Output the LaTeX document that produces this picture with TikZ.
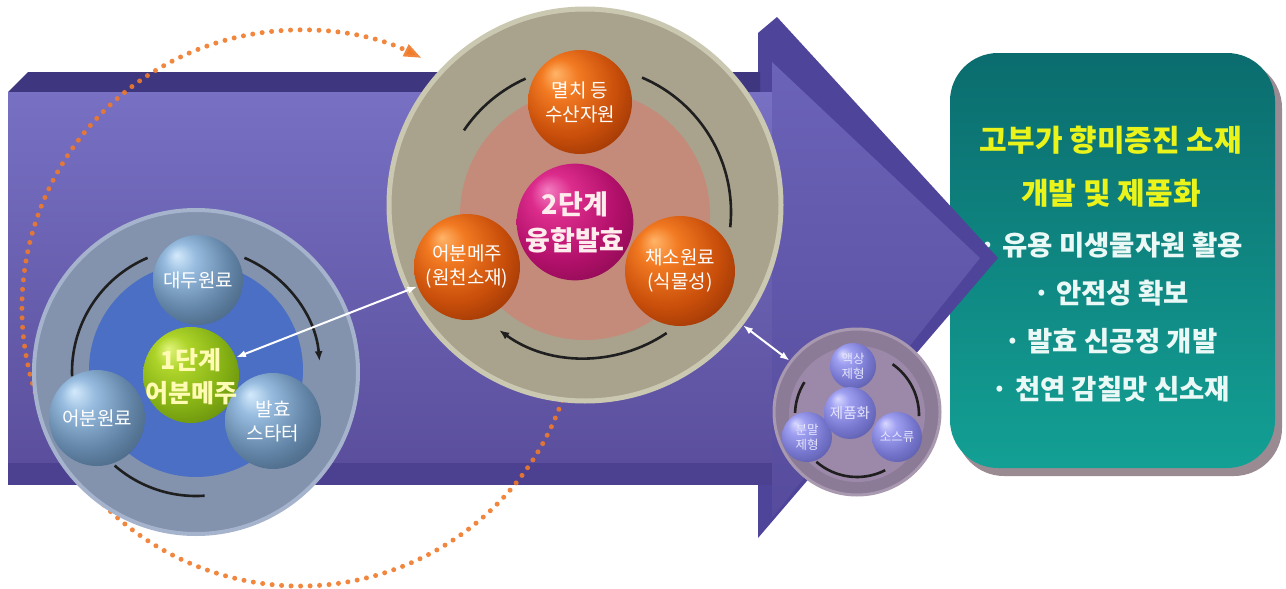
\documentclass[tikz,border=0pt]{standalone}
\usepackage{fontspec}
\setmainfont{Noto Sans CJK KR}
\usetikzlibrary{arrows.meta}

% sphere colours
\definecolor{bbA}{HTML}{D4EAFC}\definecolor{bbB}{HTML}{96BBDE}\definecolor{bbC}{HTML}{6284A6}\definecolor{bbD}{HTML}{405A76}\definecolor{bbE}{HTML}{2C3E52}
\definecolor{obA}{HTML}{FFB468}\definecolor{obB}{HTML}{F27A22}\definecolor{obC}{HTML}{C84E0A}\definecolor{obD}{HTML}{8C2E04}\definecolor{obE}{HTML}{5A1A00}
\definecolor{gbA}{HTML}{E0F47A}\definecolor{gbB}{HTML}{AED42A}\definecolor{gbC}{HTML}{84B014}\definecolor{gbD}{HTML}{5E820A}\definecolor{gbE}{HTML}{3E5806}
\definecolor{mbA}{HTML}{F37CC0}\definecolor{mbB}{HTML}{DC2C8C}\definecolor{mbC}{HTML}{B2106A}\definecolor{mbD}{HTML}{820A4C}\definecolor{mbE}{HTML}{520032}
\definecolor{lbA}{HTML}{D8D8FF}\definecolor{lbB}{HTML}{A0A0F2}\definecolor{lbC}{HTML}{7474CC}\definecolor{lbD}{HTML}{54549E}\definecolor{lbE}{HTML}{3A3A72}

\pgfdeclareradialshading{ballblue}{\pgfpoint{-12bp}{14bp}}{color(0bp)=(bbA); color(9bp)=(bbB); color(24bp)=(bbC); color(38bp)=(bbD); color(50bp)=(bbE)}
\pgfdeclareradialshading{ballorange}{\pgfpoint{-12bp}{14bp}}{color(0bp)=(obA); color(9bp)=(obB); color(24bp)=(obC); color(38bp)=(obD); color(50bp)=(obE)}
\pgfdeclareradialshading{ballgreen}{\pgfpoint{-12bp}{14bp}}{color(0bp)=(gbA); color(9bp)=(gbB); color(24bp)=(gbC); color(38bp)=(gbD); color(50bp)=(gbE)}
\pgfdeclareradialshading{ballmagenta}{\pgfpoint{-12bp}{14bp}}{color(0bp)=(mbA); color(9bp)=(mbB); color(24bp)=(mbC); color(38bp)=(mbD); color(50bp)=(mbE)}
\pgfdeclareradialshading{balllilac}{\pgfpoint{-12bp}{14bp}}{color(0bp)=(lbA); color(9bp)=(lbB); color(24bp)=(lbC); color(38bp)=(lbD); color(50bp)=(lbE)}

% arrow band and rings
\definecolor{bodytop}{HTML}{3F3680}
\definecolor{bodyA}{HTML}{7770C3}
\definecolor{bodyB}{HTML}{5B4F9D}
\definecolor{bodybottom}{HTML}{4C4090}
\definecolor{headside}{HTML}{4E4499}
\definecolor{headA}{HTML}{6B63B8}
\definecolor{headB}{HTML}{564B9C}
\definecolor{ringone}{HTML}{8393AE}\definecolor{ringonerim}{HTML}{A6B3CC}\definecolor{innerone}{HTML}{4A6FC4}
\definecolor{ringtwo}{HTML}{A9A38E}\definecolor{ringtworim}{HTML}{CBC8B2}\definecolor{innertwo}{HTML}{C48B7A}
\definecolor{ringthree}{HTML}{8B7B97}\definecolor{ringthreerim}{HTML}{A898B0}\definecolor{innerthree}{HTML}{9C88A8}
\definecolor{loopcol}{HTML}{F07A2A}
\definecolor{tealA}{HTML}{0B6C6E}
\definecolor{tealB}{HTML}{13A094}
\definecolor{boxshade}{HTML}{9A8A92}
\definecolor{headyellow}{HTML}{EAF41A}
\definecolor{pointwhite}{HTML}{EAF8F6}

\begin{document}
\begin{tikzpicture}[x=1pt,y=-1pt,
  disc/.style={circle, inner sep=0pt, draw=none},
  sphere/.style={circle, inner sep=0pt, draw=none},
  balltext/.style={text=white, align=center, font=\fontsize{19}{24}\selectfont},
  smalltext/.style={text=white!90!blue, align=center, font=\fontsize{12.5}{15}\selectfont},
  arcline/.style={draw=black!88, line width=2.6pt},
  arcarrow/.style={arcline, -{Latex[length=10pt,width=8pt]}},
  linkarrow/.style={draw=white, line width=2pt, {Latex[length=10pt,width=7pt]}-{Latex[length=10pt,width=7pt]}},
  headline/.style={text=headyellow, font=\fontsize{30}{34}\selectfont\bfseries},
  pointline/.style={text=pointwhite, font=\fontsize{27.5}{32}\selectfont\bfseries},
  loopline/.style={draw=loopcol, line width=5pt, line cap=round, dash pattern=on 0pt off 9.5pt, opacity=0.9}
]
\useasboundingbox (0,0) rectangle (1286,589);
\fill[white] (0,0) rectangle (1286,589);

% ---------- result panel ----------
\fill[boxshade, rounded corners=48pt] (956,60) rectangle (1282,476);
\node[rectangle, rounded corners=48pt, minimum width=325pt, minimum height=415pt,
      top color=tealA, bottom color=tealB, draw=none] (result) at (1112.5,260.5) {};
\node[headline] (h1) at (1111,140) {고부가 향미증진 소재};
\node[headline] (h2) at (1111,193) {개발 및 제품화};
\node[pointline] (p1) at (1111,245) {· 유용 미생물자원 활용};
\node[pointline] (p2) at (1111,293) {· 안전성 확보};
\node[pointline] (p3) at (1111,341) {· 발효 신공정 개발};
\node[pointline] (p4) at (1111,389) {· 천연 감칠맛 신소재};

% ---------- big process arrow ----------
\fill[headside] (758,33) -- (777,17) -- (998,258) -- (758,538) -- cycle;
\fill[bodytop] (8,92) -- (28,72) -- (760,72) -- (760,92) -- cycle;
\shade[top color=bodyA, bottom color=bodyB] (8,92) rectangle (774,463);
\fill[bodybottom] (8,463) rectangle (774,485);
\shade[top color=headA, bottom color=headB] (772,62) -- (980,258) -- (772,518) -- cycle;

% ---------- circulation loop ----------
\coordinate (loopc) at (300,308);
\draw[loopline, -{Triangle[length=18pt,width=12pt]}]
  ([shift={(19.4:278)}]loopc) arc[start angle=19.4, end angle=296, radius=278];

% ---------- stage 1 ----------
\node[disc, minimum size=324pt, fill=ringone, draw=ringonerim, line width=4pt] (stage1) at (196,372) {};
\node[disc, minimum size=214pt, fill=innerone] (stage1in) at (196,370) {};
\coordinate (c1) at (196,372);
\draw[arcline] ([shift={(178:124)}]c1) arc[start angle=178, end angle=247, radius=124];
\draw[arcarrow] ([shift={(-67:124)}]c1) arc[start angle=-67, end angle=-5, radius=124];
\draw[arcline] ([shift={(86:124)}]c1) arc[start angle=86, end angle=131, radius=124];
\node[sphere, shading=ballgreen, minimum size=96pt] (step1) at (191,375) {};
\node[sphere, shading=ballblue, minimum size=90pt, balltext] (soy) at (198,280) {대두원료};
\node[sphere, shading=ballblue, minimum size=96pt, balltext] (fishraw) at (97,418) {어분원료};
\node[sphere, shading=ballblue, minimum size=96pt, balltext] (starter) at (273,421) {발효\\스타터};
\node[text=yellow!30!white, align=center, font=\fontsize{25}{33}\selectfont\bfseries] (step1label) at (191,377) {1단계\\어분메주};

% ---------- stage 2 ----------
\node[disc, minimum size=392pt, fill=ringtwo, draw=ringtworim, line width=5pt] (stage2) at (585,205) {};
\node[disc, minimum size=250pt, fill=innertwo] (stage2in) at (585,215) {};
\coordinate (c2) at (585,212);
\draw[arcline] ([shift={(214:146)}]c2) arc[start angle=214, end angle=246, radius=146];
\draw[arcline] ([shift={(-67:146)}]c2) arc[start angle=-67, end angle=6, radius=146];
\draw[arcarrow] ([shift={(56:146)}]c2) arc[start angle=56, end angle=126, radius=146];
\node[sphere, shading=ballorange, minimum size=104pt, balltext] (anchovy) at (580,102) {멸치 등\\수산자원};
\node[sphere, shading=ballorange, minimum size=106pt, balltext] (fishmeju) at (467,267) {어분메주\\(원천소재)};
\node[sphere, shading=ballorange, minimum size=110pt, balltext] (veg) at (680,271) {채소원료\\(식물성)};
\node[sphere, shading=ballmagenta, minimum size=112pt, text=pink!30!white, align=center,
      font=\fontsize{27}{36}\selectfont\bfseries] (step2) at (575,222) {2단계\\융합발효};

% ---------- stage 3 ----------
\node[disc, minimum size=166pt, fill=ringthree, draw=ringthreerim, line width=3pt] (stage3) at (857,412) {};
\node[disc, minimum size=136pt, fill=innerthree] (stage3in) at (857,414) {};
\coordinate (c3) at (857,415);
\draw[arcline] ([shift={(182:62)}]c3) arc[start angle=182, end angle=212, radius=62];
\draw[arcline] ([shift={(-55:62)}]c3) arc[start angle=-55, end angle=1, radius=62];
\draw[arcline] ([shift={(63:62)}]c3) arc[start angle=63, end angle=131, radius=62];
\node[sphere, shading=balllilac, minimum size=46pt, smalltext] (liquid) at (853,366) {액상\\제형};
\node[sphere, shading=balllilac, minimum size=50pt, smalltext] (powder) at (807,437) {분말\\제형};
\node[sphere, shading=balllilac, minimum size=50pt, smalltext] (sauce) at (897,437) {소스류};
\node[sphere, shading=balllilac, minimum size=52pt, smalltext, font=\fontsize{14.5}{17}\selectfont] (product) at (850,413) {제품화};

% ---------- links ----------
\draw[linkarrow] (step1) -- (fishmeju);
\draw[linkarrow] (stage2) -- (stage3);
\end{tikzpicture}
\end{document}
